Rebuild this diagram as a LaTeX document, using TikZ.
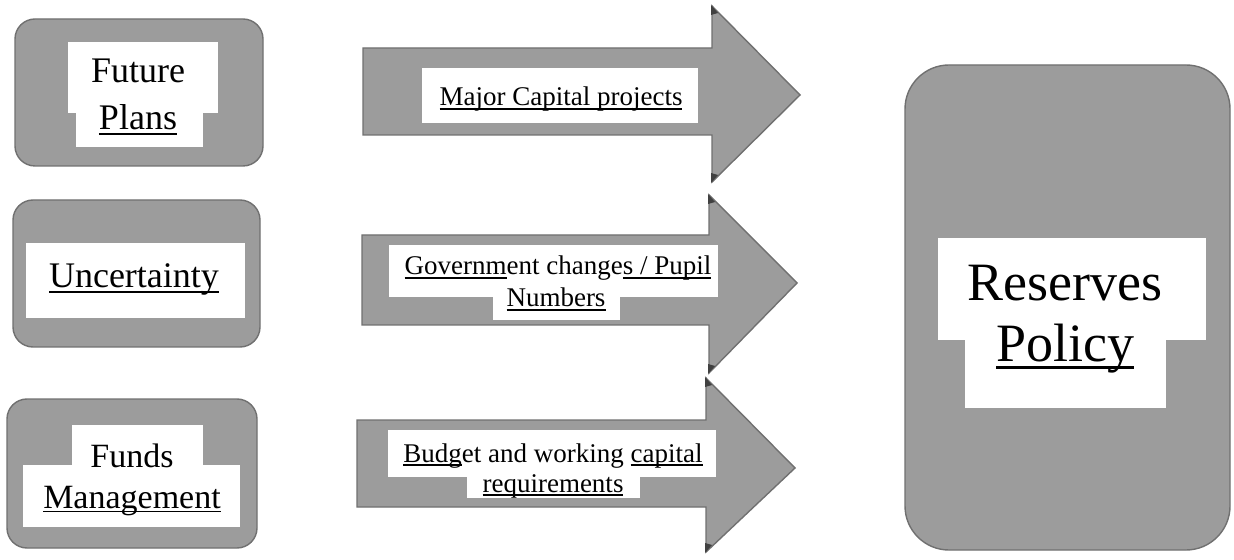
\documentclass[tikz,border=0pt]{standalone}
\usepackage{fontspec}
\setmainfont{Liberation Serif}
% underline with a rule scaled to the current font size
\newcommand\udl[1]{\setbox0\hbox{#1}\rlap{\rule[-0.13em]{\wd0}{0.055em}}\box0}
\definecolor{boxgray}{RGB}{156,156,156}
\definecolor{edgegray}{RGB}{112,112,112}
\tikzset{
  panel/.style={draw=edgegray, fill=boxgray, line width=0.7pt, rounded corners=10pt},
  bigpanel/.style={panel, rounded corners=22pt},
  blockarrow/.style={draw=edgegray, fill=boxgray, line width=0.7pt, line join=miter},
  corner/.style={fill=black!75},
  pad/.style={fill=white},
  lbl/.style={anchor=base, inner sep=0pt, text=black},
  leftlbl/.style={lbl, font=\fontsize{18}{20}\selectfont},
  smalllbl/.style={lbl, font=\fontsize{17}{19}\selectfont},
  arrowlbl/.style={lbl, font=\fontsize{13.5}{15}\selectfont},
  mainlbl/.style={lbl, font=\fontsize{27}{30}\selectfont},
}
\begin{document}
\begin{tikzpicture}[x=0.5pt, y=-0.5pt]
\useasboundingbox (0,0) rectangle (1234,560);

% left-hand boxes
\path[panel] (15,19) rectangle (263,166);
\path[panel] (13,200) rectangle (260,347);
\path[panel] (7,399) rectangle (257,548);

% block arrows
\path[blockarrow] (363,48) -- (712,48) -- (712,6) -- (800,95) -- (712,182) -- (712,135) -- (363,135) -- cycle;
\path[blockarrow] (362,235) -- (709,235) -- (709,195) -- (797,283) -- (709,373) -- (709,325) -- (362,325) -- cycle;
\path[blockarrow] (357,420) -- (706,420) -- (706,378) -- (795,468) -- (706,552) -- (706,507) -- (357,507) -- cycle;

% darkened tips at the arrowhead corners
\fill[corner] (711,5) -- (718,13) -- (711,15) -- cycle;
\fill[corner] (711,183) -- (718,175) -- (711,173) -- cycle;
\fill[corner] (708,194) -- (715,202) -- (708,204) -- cycle;
\fill[corner] (708,374) -- (715,366) -- (708,364) -- cycle;
\fill[corner] (705,377) -- (712,385) -- (705,387) -- cycle;
\fill[corner] (705,553) -- (712,545) -- (705,543) -- cycle;

% right-hand box
\path[bigpanel] (905,65) rectangle (1230,550);

% white text backgrounds
\fill[pad] (68,42) rectangle (218,113);
\fill[pad] (76,113) rectangle (203,147);
\fill[pad] (26,243) rectangle (245,318);
\fill[pad] (72,425) rectangle (203,466);
\fill[pad] (23,465) rectangle (240,527);
\fill[pad] (422,68) rectangle (698,123);
\fill[pad] (389,245) rectangle (718,297);
\fill[pad] (493,296) rectangle (620,320);
\fill[pad] (388,430) rectangle (716,477);
\fill[pad] (467,476) rectangle (640,498);
\fill[pad] (938,238) rectangle (1206,340);
\fill[pad] (965,339) rectangle (1166,408);

% labels
\node[leftlbl] (future) at (138,83) {Future};
\node[leftlbl] (plans) at (138,130) {\udl{Plans}};
\node[leftlbl] (uncert) at (134,288) {\udl{Uncertainty}};
\node[smalllbl] (funds) at (132,467) {Funds};
\node[smalllbl] (mgmt) at (132,508) {\udl{Management}};

\node[arrowlbl] (capproj) at (561,106) {\udl{Major Capital projects}};
\node[arrowlbl] (gov) at (558,275) {\udl{Governm}ent change\udl{s / Pupil}};
\node[arrowlbl] (pupils) at (556,307) {\udl{Numbers}};
\node[arrowlbl] (budget) at (553,462) {\udl{Budg}et and working \udl{capital}};
\node[arrowlbl] (req) at (553,492) {\udl{requirements}};

\node[mainlbl] (reserves) at (1065,301) {Reserves};
\node[mainlbl] (policy) at (1065,362) {\udl{Policy}};
\end{tikzpicture}
\end{document}
